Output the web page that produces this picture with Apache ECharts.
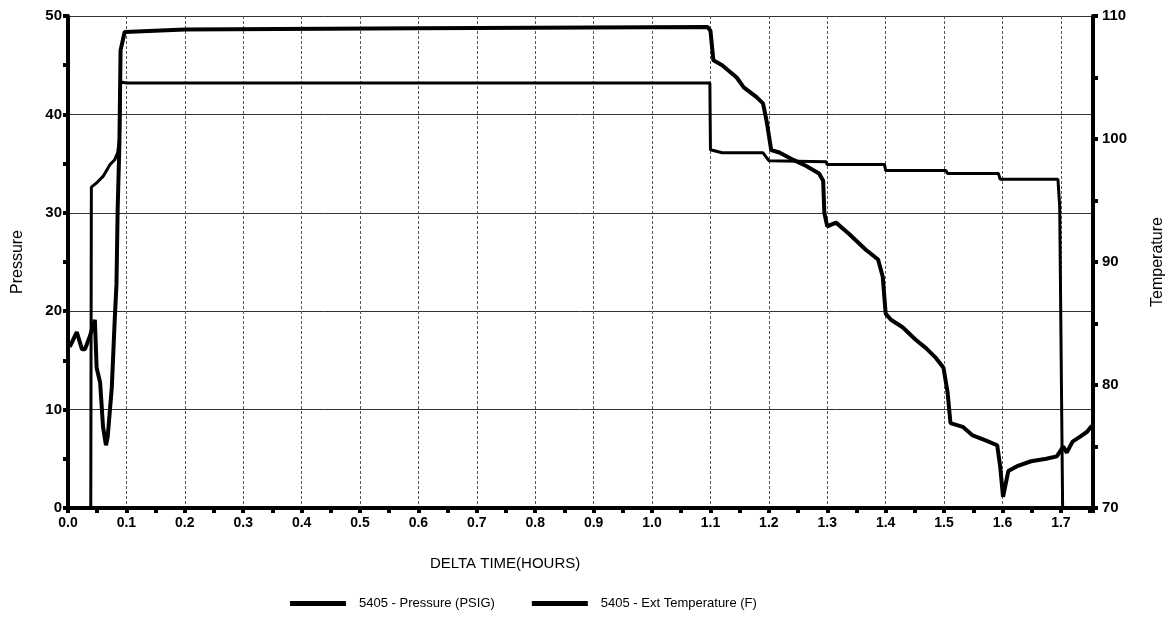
<!DOCTYPE html>
<html>
<head>
<meta charset="utf-8">
<script src="https://cdn.jsdelivr.net/npm/echarts@6/dist/echarts.min.js"></script>
<style>
html,body{margin:0;padding:0;background:#fff;}
#c{width:1174px;height:625px;}
</style>
</head>
<body>
<div id="c"></div>
<script>
// Pressure (PSIG) vs delta time (hours)
const pressureTime = [0, 0.039, 0.040, 0.05, 0.06, 0.072, 0.08, 0.085, 0.088, 0.090, 0.1, 1.099, 1.100, 1.12, 1.19, 1.20, 1.298, 1.30, 1.398, 1.40, 1.503, 1.506, 1.593, 1.596, 1.695, 1.698, 1.703];
const pressureVals = [0, 0, 32.6, 33.1, 33.7, 34.9, 35.4, 36.1, 37.4, 43.3, 43.2, 43.2, 36.4, 36.1, 36.1, 35.3, 35.2, 34.9, 34.9, 34.3, 34.3, 34.0, 34.0, 33.4, 33.4, 30.6, 0];

// Ext temperature (F) vs delta time (hours)
const tempTime = [0.003, 0.015, 0.024, 0.029, 0.037, 0.046, 0.049, 0.055, 0.060, 0.065, 0.068, 0.075, 0.080, 0.083, 0.085, 0.088, 0.090, 0.097, 0.2, 0.6, 1.095, 1.100, 1.105, 1.12, 1.145, 1.157, 1.179, 1.19, 1.196, 1.204, 1.218, 1.242, 1.264, 1.286, 1.293, 1.295, 1.30, 1.315, 1.337, 1.366, 1.387, 1.395, 1.400, 1.409, 1.429, 1.451, 1.469, 1.486, 1.499, 1.506, 1.511, 1.532, 1.549, 1.571, 1.591, 1.596, 1.601, 1.61, 1.625, 1.649, 1.675, 1.693, 1.704, 1.71, 1.72, 1.733, 1.745, 1.753];
const tempVals = [83.1, 84.3, 82.9, 82.9, 83.9, 85.3, 81.4, 80.2, 76.6, 75.1, 75.8, 79.8, 85.3, 88.2, 94.2, 99.6, 107.2, 108.7, 108.9, 109.0, 109.1, 108.8, 106.4, 106.0, 105.0, 104.2, 103.4, 102.9, 101.5, 99.1, 98.9, 98.3, 97.8, 97.2, 96.6, 94.0, 92.9, 93.2, 92.3, 91.0, 90.2, 88.8, 85.8, 85.3, 84.7, 83.7, 83.0, 82.2, 81.4, 79.4, 76.9, 76.6, 75.9, 75.5, 75.1, 73.4, 70.9, 73.0, 73.4, 73.8, 74.0, 74.2, 75.0, 74.5, 75.4, 75.8, 76.2, 76.7];

const seriesNames = ['5405 - Pressure (PSIG)', '5405 - Ext Temperature (F)'];
const xTitle = 'DELTA TIME(HOURS)';
const yLeftTitle = 'Pressure';
const yRightTitle = 'Temperature';

const FONT = 'Liberation Sans, Arial, sans-serif';
const chart = echarts.init(document.getElementById('c'));

function pairs(xs, ys) { return xs.map((x, i) => [x, ys[i]]); }

const axisLabelBold = {color: '#000', fontFamily: FONT, fontWeight: 'bold', fontSize: 15};

chart.setOption({
  animation: false,
  backgroundColor: '#fff',
  grid: {left: 68, right: 76, top: 16, bottom: 117, containLabel: false},
  graphic: [{
    type: 'text', left: 430, top: 556,
    style: {text: xTitle, fill: '#000', font: '15px ' + FONT}
  }],
  legend: {
    bottom: 10, left: 285,
    itemWidth: 56, itemHeight: 5, itemGap: 37,
    icon: 'rect',
    textStyle: {color: '#000', fontFamily: FONT, fontSize: 13, padding: [0, 0, 0, 8]},
    data: [
      {name: seriesNames[0], itemStyle: {color: '#000'}},
      {name: seriesNames[1], itemStyle: {color: '#000'}}
    ]
  },
  xAxis: {
    type: 'value', min: 0, max: 1.755, interval: 0.1,
    axisLine: {show: true, onZero: false, lineStyle: {color: '#000', width: 4}},
    axisTick: {show: true, length: 5, lineStyle: {color: '#000', width: 4}},
    minorTick: {show: true, splitNumber: 2, length: 5, lineStyle: {color: '#000', width: 4}},
    axisLabel: Object.assign({}, axisLabelBold, {fontSize: 14, margin: 8,
      formatter: v => (Math.abs(v * 10 - Math.round(v * 10)) < 1e-6 && v <= 1.7001) ? v.toFixed(1) : ''}),
    splitLine: {show: true, lineStyle: {color: '#555', width: 1, type: [3, 2]}}
  },
  yAxis: [
    {
      type: 'value', min: 0, max: 50, interval: 10, position: 'left',
      name: yLeftTitle, nameLocation: 'middle', nameGap: 42, nameRotate: 90,
      nameTextStyle: {color: '#000', fontFamily: FONT, fontSize: 16},
      axisLine: {show: true, lineStyle: {color: '#000', width: 4}},
      axisTick: {show: true, length: 5, lineStyle: {color: '#000', width: 4}},
      minorTick: {show: true, splitNumber: 2, length: 5, lineStyle: {color: '#000', width: 4}},
      axisLabel: Object.assign({}, axisLabelBold, {margin: 6}),
      splitLine: {show: true, lineStyle: {color: '#333', width: 1}}
    },
    {
      type: 'value', min: 70, max: 110, interval: 10, position: 'right',
      name: yRightTitle, nameLocation: 'middle', nameGap: 57, nameRotate: 90,
      nameTextStyle: {color: '#000', fontFamily: FONT, fontSize: 16},
      axisLine: {show: true, lineStyle: {color: '#000', width: 4}},
      axisTick: {show: true, length: 5, lineStyle: {color: '#000', width: 4}},
      minorTick: {show: true, splitNumber: 2, length: 5, lineStyle: {color: '#000', width: 4}},
      axisLabel: Object.assign({}, axisLabelBold, {margin: 9}),
      splitLine: {show: false}
    }
  ],
  series: [
    {
      name: seriesNames[0], type: 'line', yAxisIndex: 0,
      data: pairs(pressureTime, pressureVals),
      showSymbol: false, symbol: 'none',
      lineStyle: {color: '#000', width: 3},
      itemStyle: {color: '#000'}
    },
    {
      name: seriesNames[1], type: 'line', yAxisIndex: 1,
      data: pairs(tempTime, tempVals),
      showSymbol: false, symbol: 'none',
      lineStyle: {color: '#000', width: 4},
      itemStyle: {color: '#000'}
    }
  ]
});
</script>
</body>
</html>
